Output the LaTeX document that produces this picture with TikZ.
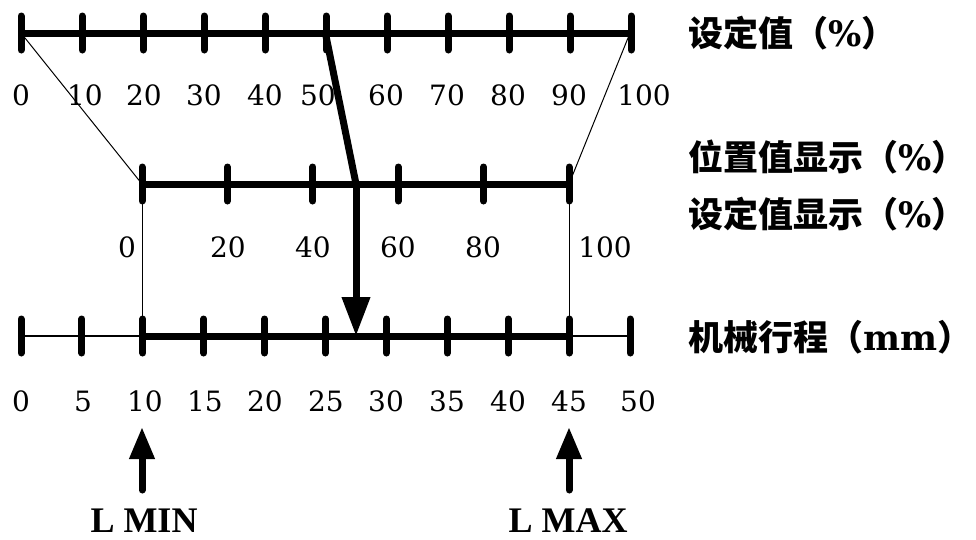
\documentclass[tikz,border=0pt]{standalone}
\usepackage{fontspec}
\setmainfont{Liberation Serif}
\newfontfamily\numfont{DejaVu Serif}
\newfontfamily\cjk{Noto Sans CJK SC}
\usetikzlibrary{arrows.meta}
\begin{document}
\begin{tikzpicture}[x=1pt,y=-1pt,
  scaleline/.style={line width=7pt},
  tickmark/.style={line width=7pt,line cap=round},
  thinline/.style={line width=1pt},
  num/.style={font=\fontsize{28}{30}\selectfont\numfont,inner sep=0pt},
  cjklabel/.style={font=\fontsize{35}{38}\selectfont\cjk\bfseries,anchor=west,inner sep=0pt},
  limit/.style={font=\fontsize{36}{38}\selectfont\bfseries,inner sep=0pt,anchor=base,text depth=0pt},
  bigarrow/.style={line width=7pt,-{Triangle[width=27pt,length=39pt]}},
  uparrow/.style={line width=7pt,line cap=round,-{Triangle[width=24pt,length=32pt]}}]
\useasboundingbox (0,0) rectangle (976,539);
% coordinates
\coordinate (tA) at (21,33);   \coordinate (tB) at (630,33);
\coordinate (mA) at (142,184); \coordinate (mB) at (569,184);
\coordinate (bA) at (21,336);  \coordinate (bB) at (630,336);
\coordinate (bL) at (142,336); \coordinate (bR) at (569,336);
\coordinate (t50) at (326,36);
\coordinate (m50) at (356,184);
\coordinate (b275) at (356,336);
% thin connecting lines
\draw[thinline] (tA) -- (mA);
\draw[thinline] (tB) -- (mB);
\draw[thinline] (mA) -- (bL);
\draw[thinline] (mB) -- (bR);
% top scale
\draw[scaleline] (tA) -- (tB);
\foreach \i in {0,...,10} {\draw[tickmark] (21+61*\i,16) -- (21+61*\i,50);}
% middle scale
\draw[scaleline] (mA) -- (mB);
\foreach \i in {0,...,5} {\draw[tickmark] (142+85.4*\i,167) -- (142+85.4*\i,201);}
% bottom scale
\draw[line width=2pt] (bA) -- (bB);
\draw[scaleline] (bL) -- (bR);
\foreach \i in {0,...,10} {\draw[tickmark] (21+60.9*\i,319) -- (21+60.9*\i,353);}
% main arrow
\draw[line width=7pt] (t50) -- (m50);
\draw[bigarrow] (m50) -- (b275);
% top labels
\foreach \v/\x in {0/21,10/85,20/144,30/204,40/265,50/318,60/386,70/447,80/508,90/569,100/644}
  {\node[num] (tl\v) at (\x,95) {\v};}
% middle labels
\foreach \v/\x in {0/127,20/228,40/313,60/398,80/483,100/605}
  {\node[num] (ml\v) at (\x,247) {\v};}
% bottom labels
\foreach \v/\x in {0/21,5/83,10/145,15/205,20/265,25/326,30/386,35/447,40/508,45/569,50/638}
  {\node[num] (bl\v) at (\x,401) {\v};}
% right labels
\node[cjklabel] (lab1) at (688,33) {设定值（{\numfont\%}）};
\node[cjklabel] (lab2) at (688,157) {位置值显示（{\numfont\%}）};
\node[cjklabel] (lab3) at (688,214) {设定值显示（{\numfont\%}）};
\node[cjklabel] (lab4) at (688,337) {机械行程（{\numfont mm}）};
% limit arrows
\node[limit] (lmin) at (144,532) {L MIN};
\node[limit] (lmax) at (568,532) {L MAX};
\coordinate (lminb) at (142,490); \coordinate (lmint) at (142,427);
\coordinate (lmaxb) at (569,490); \coordinate (lmaxt) at (569,427);
\draw[uparrow] (lminb) -- (lmint);
\draw[uparrow] (lmaxb) -- (lmaxt);
\end{tikzpicture}
\end{document}
